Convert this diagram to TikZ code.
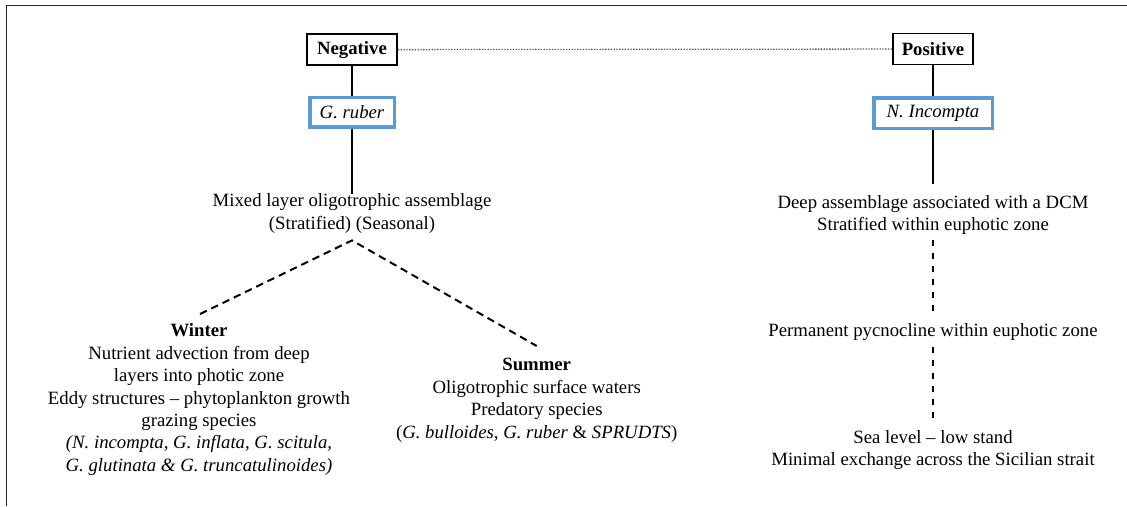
\documentclass[tikz,border=0pt]{standalone}
\usepackage{fontspec}
\setmainfont{Liberation Serif}
\definecolor{boxblue}{RGB}{91,155,213}
\begin{document}
\begin{tikzpicture}[x=1pt,y=-1pt,
  basefont/.style={font=\fontsize{18.75pt}{22.4pt}\selectfont},
  txt/.style={basefont, align=center, inner sep=0pt, anchor=north},
  head/.style={draw=black, line width=1.8pt, font=\fontsize{18.75pt}{22.4pt}\selectfont\bfseries, inner sep=0pt, minimum height=31pt},
  taxon/.style={draw=boxblue, line width=3.5pt, font=\fontsize{18.75pt}{22.4pt}\selectfont\itshape, inner sep=0pt, minimum height=29.5pt},
  link/.style={line width=1.8pt},
  stem/.style={line width=2.8pt},
  branch/.style={line width=2pt, dash pattern=on 7.5pt off 5pt},
  drop/.style={line width=2pt, dash pattern=on 6pt off 7pt},
  tie/.style={line width=1.3pt, black!65, dash pattern=on 1.4pt off 1.4pt}]
\useasboundingbox (0,0) rectangle (1127,506);
\draw[line width=1.6pt, black!85] (1127,5.5) -- (6.5,5.5) -- (6.5,506);

% header boxes
\node[head, minimum width=90pt] (neg) at (352,49.7) {Negative};
\node[head, minimum width=80pt] (pos) at (933,49) {Positive};
\node[taxon, minimum width=84.5pt] (gruber) at (352,112) {G. ruber};
\node[taxon, minimum width=118.5pt, minimum height=30.5pt] (nincompta) at (933,113) {N. Incompta};

% text blocks
\node[txt] (mixed) at (352,191) {\strut Mixed layer oligotrophic assemblage\\\strut (Stratified) (Seasonal)};
\node[txt] (winter) at (199,321) {\strut\textbf{Winter}\\
  \strut Nutrient advection from deep\\
  \strut layers into photic zone\\
  \strut Eddy structures -- phytoplankton growth\\
  \strut grazing species\\
  \strut\textit{(N. incompta, G. inflata, G. scitula,}\\
  \strut\textit{G. glutinata \& G. truncatulinoides)}};
\node[txt] (summer) at (536.7,355) {\strut\textbf{Summer}\\
  \strut Oligotrophic surface waters\\
  \strut Predatory species\\
  \strut(\textit{G. bulloides, G. ruber} \& \textit{SPRUDTS})};
\node[txt] (deep) at (933,192.6) {\strut Deep assemblage associated with a DCM\\\strut Stratified within euphotic zone};
\node[txt] (perm) at (933,321) {\strut Permanent pycnocline within euphotic zone};
\node[txt] (sea) at (933,427.3) {\strut Sea level -- low stand\\\strut Minimal exchange across the Sicilian strait};

% connectors
\draw[tie] (neg) -- (pos);
\draw[link] (neg) -- (gruber);
\draw[stem, shorten >=-3pt] (gruber) -- (mixed);
\draw[link] (pos) -- (nincompta);
\draw[stem, shorten >=8.6pt] (nincompta) -- (deep);

\coordinate (apex) at ([yshift=-4.2pt]mixed.south);
\draw[branch] ([xshift=1pt,yshift=7pt]winter.north) -- (apex) -- ([yshift=9pt]summer.north);

\draw[drop] ([yshift=-2.6pt]deep.south) -- ([yshift=8pt]perm.north);
\draw[drop] ([yshift=-3.3pt]perm.south) -- ([yshift=6.6pt]sea.north);
\end{tikzpicture}
\end{document}
